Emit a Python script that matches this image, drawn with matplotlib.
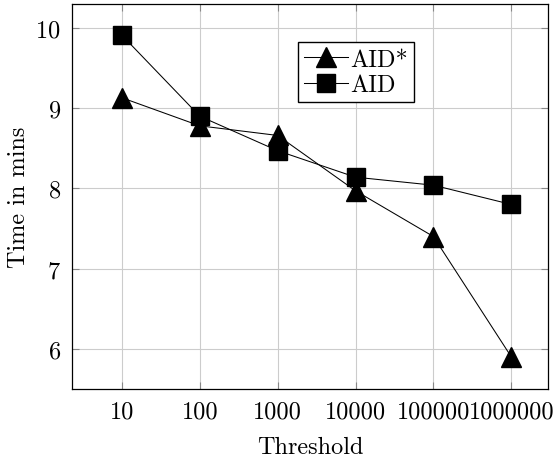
import numpy as np
import matplotlib.pyplot as plt

plt.rcParams['font.family'] = ['cmr10', 'DejaVu Serif']
plt.rcParams['axes.formatter.use_mathtext'] = True
plt.rcParams['mathtext.fontset'] = 'cm'

# Datos
thresholds = [10, 100, 1000, 10000, 100000, 1000000]
threshold_labels = ['10', '100', '1000', '10000', '100000', '1000000']
aid_star = [9.13, 8.78, 8.66, 7.97, 7.40, 5.90]
aid = [9.91, 8.90, 8.47, 8.14, 8.04, 7.80]

fig = plt.figure(figsize=(5.56, 4.64), dpi=100)
ax = fig.add_axes([0.1295, 0.1595, 0.856, 0.830])

ax.plot(thresholds, aid_star, color='black', lw=0.75, marker='^', markersize=15, label='AID*')
ax.plot(thresholds, aid, color='black', lw=0.75, marker='s', markersize=13, label='AID')

ax.set_xscale('log')
ax.set_xlim(10 ** 0.36, 10 ** 6.47)
ax.set_ylim(5.5, 10.3)
ax.set_xticks(thresholds, threshold_labels)
ax.minorticks_off()
ax.set_yticks([6, 7, 8, 9, 10])

ax.grid(True, color='#cccccc', lw=0.8)
ax.set_axisbelow(True)
ax.tick_params(direction='in', top=True, right=True, length=5, color='#888888', labelsize=17.5, pad=8)
for s in ax.spines.values():
    s.set_linewidth(0.9)

ax.set_xlabel('Threshold', fontsize=17.5, labelpad=10)
ax.set_ylabel('Time in mins', fontsize=17.5, labelpad=4)

ax.legend(loc='upper left', bbox_to_anchor=(0.475, 0.9), fontsize=17.5, fancybox=False,
          edgecolor='black', framealpha=1, handlelength=1.8, handletextpad=0.1,
          borderpad=0.25, labelspacing=0.15, borderaxespad=0)

fig.savefig('out.png', dpi=100)
